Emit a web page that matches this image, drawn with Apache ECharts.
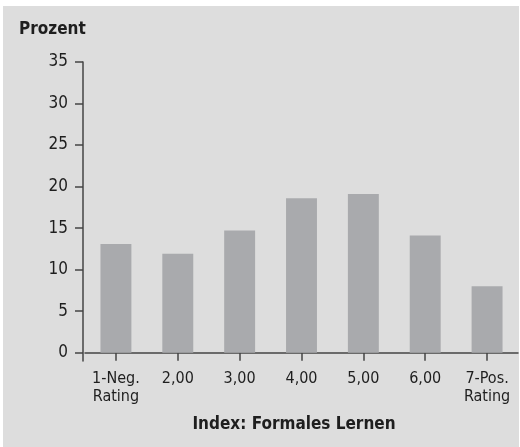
<!DOCTYPE html>
<html>
<head>
<meta charset="utf-8">
<script src="https://cdn.jsdelivr.net/npm/echarts@6/dist/echarts.min.js"></script>
<style>
  html, body { margin: 0; padding: 0; background: #fff; }
  #chart {
    position: absolute;
    left: 3px;
    top: 6px;
    width: 516px;
    height: 441px;
    background: #dddddd;
  }
</style>
</head>
<body>
<div id="chart"></div>
<script>
const categories = ['1-Neg.\nRating', '2,00', '3,00', '4,00', '5,00', '6,00', '7-Pos.\nRating']
const values = [13.1, 11.9, 14.7, 18.6, 19.1, 14.1, 8.0]
const yTicks = [0, 5, 10, 15, 20, 25, 30, 35]

const font = '"DejaVu Sans Condensed", "Liberation Sans Narrow", sans-serif'
const axisColor = '#444'
const textColor = '#1e1e1e'

const chart = echarts.init(document.getElementById('chart'))
chart.setOption({
  animation: false,
  textStyle: { fontFamily: font },
  title: {
    text: 'Prozent',
    left: 11,
    top: 10,
    textStyle: { fontFamily: font, fontSize: 17, fontWeight: 'bold', color: textColor }
  },
  grid: { left: 82, right: 1, top: 56, bottom: 86 },
  xAxis: {
    type: 'category',
    data: categories,
    name: 'Index: Formales Lernen',
    nameLocation: 'middle',
    nameGap: 55,
    nameTextStyle: {
      fontFamily: font, fontSize: 17, fontWeight: 'bold', color: textColor,
      padding: [0, 15, 0, 0]
    },
    axisLine: { onZero: true, lineStyle: { color: axisColor, width: 1.5 } },
    axisTick: { show: true, alignWithLabel: true, length: 8, lineStyle: { color: axisColor, width: 1.5 } },
    axisLabel: { fontSize: 16, color: textColor, lineHeight: 18, margin: 9, interval: 0 }
  },
  yAxis: {
    type: 'value',
    min: -1,
    max: 35,
    offset: 2,
    splitLine: { show: false },
    axisLine: { show: true, lineStyle: { color: axisColor, width: 1.5 } },
    axisTick: { show: true, length: 8, customValues: yTicks, lineStyle: { color: axisColor, width: 1.5 } },
    axisLabel: { fontSize: 17, color: textColor, margin: 15, customValues: yTicks }
  },
  series: [{
    type: 'bar',
    data: values,
    barWidth: '50%',
    itemStyle: { color: '#a9aaad' }
  }]
})
</script>
</body>
</html>
